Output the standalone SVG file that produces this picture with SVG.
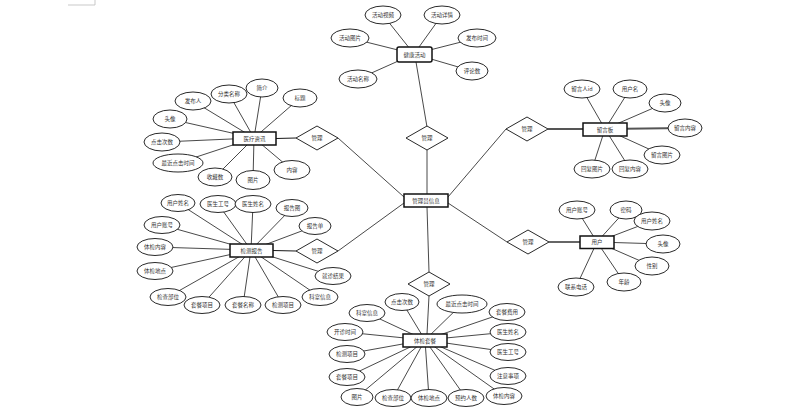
<svg xmlns="http://www.w3.org/2000/svg" width="806" height="415" viewBox="0 0 806 415">
<style>
.l{stroke:#1a1a1a;stroke-width:0.8;fill:none}
.t{stroke:#555;stroke-width:1.8;fill:none}
.a ellipse{fill:#fff;stroke:#111;stroke-width:0.9}
.e rect{fill:#fff;stroke:#111;stroke-width:1.5}
.d polygon{fill:#fff;stroke:#111;stroke-width:0.9}
text{font-family:"Noto Sans CJK SC","Noto Sans",sans-serif;font-size:5.5px;fill:#333;text-anchor:middle;dominant-baseline:central}
</style>
<rect width="806" height="415" fill="#fff"/>
<path d="M68 5H95V0" stroke="#bbb" stroke-width="0.8" fill="none"/>
<g id="connectors">
<!-- 健康活动 -->
<line class="l" x1="414" y1="54" x2="383" y2="15"/>
<line class="l" x1="414" y1="54" x2="442" y2="15"/>
<line class="l" x1="414" y1="54" x2="350" y2="38"/>
<line class="l" x1="414" y1="54" x2="477" y2="38"/>
<line class="l" x1="414" y1="54" x2="358" y2="79"/>
<line class="l" x1="414" y1="54" x2="472" y2="71"/>
<line class="l" x1="416" y1="62" x2="427" y2="127"/>
<!-- center -->
<line class="l" x1="427" y1="150" x2="427" y2="194"/>
<line class="l" x1="404" y1="197" x2="338" y2="138"/>
<line class="l" x1="448" y1="197" x2="506" y2="129"/>
<line class="l" x1="448" y1="203" x2="507" y2="242"/>
<line class="l" x1="404" y1="203" x2="338" y2="251"/>
<line class="l" x1="427" y1="207" x2="429" y2="272"/>
<line class="l" x1="429" y1="296" x2="427" y2="334"/>
<!-- 医疗资讯 -->
<line class="l" style="stroke-width:1.2" x1="276" y1="138.5" x2="296" y2="138"/>
<line class="l" x1="254" y1="138" x2="193" y2="101"/>
<line class="l" x1="254" y1="138" x2="229" y2="94"/>
<line class="l" x1="254" y1="138" x2="262" y2="88"/>
<line class="l" x1="254" y1="138" x2="300" y2="98"/>
<line class="l" x1="254" y1="138" x2="170" y2="119"/>
<line class="l" x1="254" y1="138" x2="162" y2="142"/>
<line class="l" x1="254" y1="138" x2="178" y2="163"/>
<line class="l" x1="254" y1="138" x2="215" y2="177"/>
<line class="l" x1="254" y1="138" x2="253" y2="180"/>
<line class="l" x1="254" y1="138" x2="292" y2="170"/>
<!-- 留言板 -->
<line class="t" x1="548" y1="129" x2="583" y2="129"/>
<line class="t" x1="605" y1="129" x2="685" y2="128"/>
<line class="l" x1="605" y1="129" x2="582" y2="89"/>
<line class="l" x1="605" y1="129" x2="630" y2="89"/>
<line class="l" x1="605" y1="129" x2="665" y2="103"/>
<line class="l" x1="605" y1="129" x2="662" y2="155"/>
<line class="l" x1="605" y1="129" x2="592" y2="169"/>
<line class="l" x1="605" y1="129" x2="630" y2="169"/>
<!-- 检测报告 -->
<line class="l" style="stroke-width:1.2" x1="273" y1="250.5" x2="296" y2="251"/>
<line class="l" x1="251" y1="250" x2="178" y2="203"/>
<line class="l" x1="251" y1="250" x2="218" y2="204"/>
<line class="l" x1="251" y1="250" x2="253" y2="204"/>
<line class="l" x1="251" y1="250" x2="292" y2="208"/>
<line class="l" x1="251" y1="250" x2="315" y2="226"/>
<line class="l" x1="251" y1="250" x2="162" y2="225"/>
<line class="l" x1="251" y1="250" x2="155" y2="247"/>
<line class="l" x1="251" y1="250" x2="155" y2="271"/>
<line class="l" x1="251" y1="250" x2="168" y2="297"/>
<line class="l" x1="251" y1="250" x2="202" y2="305"/>
<line class="l" x1="251" y1="250" x2="243" y2="305"/>
<line class="l" x1="251" y1="250" x2="283" y2="305"/>
<line class="l" x1="251" y1="250" x2="320" y2="297"/>
<line class="l" x1="251" y1="250" x2="333" y2="276"/>
<!-- 用户 -->
<line class="t" x1="549" y1="242" x2="580" y2="242"/>
<line class="l" x1="597" y1="242" x2="577" y2="210"/>
<line class="l" x1="597" y1="242" x2="626" y2="210"/>
<line class="l" x1="597" y1="242" x2="652" y2="221"/>
<line class="l" x1="597" y1="242" x2="663" y2="244"/>
<line class="l" x1="597" y1="242" x2="652" y2="266"/>
<line class="l" x1="597" y1="242" x2="624" y2="282"/>
<line class="l" x1="597" y1="242" x2="576" y2="287"/>
<!-- 体检套餐 -->
<line class="l" x1="425" y1="340" x2="402" y2="302"/>
<line class="l" x1="425" y1="340" x2="462" y2="304"/>
<line class="l" x1="425" y1="340" x2="367" y2="313"/>
<line class="l" x1="425" y1="340" x2="507" y2="312"/>
<line class="l" x1="425" y1="340" x2="345" y2="332"/>
<line class="l" x1="425" y1="340" x2="508" y2="332"/>
<line class="l" x1="425" y1="340" x2="347" y2="354"/>
<line class="l" x1="425" y1="340" x2="508" y2="352"/>
<line class="l" x1="425" y1="340" x2="347" y2="377"/>
<line class="l" x1="425" y1="340" x2="508" y2="376"/>
<line class="l" x1="425" y1="340" x2="357" y2="397"/>
<line class="l" x1="425" y1="340" x2="393" y2="398"/>
<line class="l" x1="425" y1="340" x2="429" y2="398"/>
<line class="l" x1="425" y1="340" x2="466" y2="398"/>
<line class="l" x1="425" y1="340" x2="504" y2="396"/>
</g>

<!-- relationship diamonds -->
<g id="rel-top" class="d"><polygon points="427,126 448,138 427,150 406,138"/><text x="427" y="138">管理</text></g>
<g id="rel-lu" class="d"><polygon points="317,126 338,138 317,150 296,138"/><text x="317" y="138">管理</text></g>
<g id="rel-ru" class="d"><polygon points="527,117 548,129 527,141 506,129"/><text x="527" y="129">管理</text></g>
<g id="rel-rd" class="d"><polygon points="528,230 549,242 528,254 507,242"/><text x="528" y="242">管理</text></g>
<g id="rel-ld" class="d"><polygon points="317,239 338,251 317,263 296,251"/><text x="317" y="251">管理</text></g>
<g id="rel-b" class="d"><polygon points="429,272 450,284 429,296 408,284"/><text x="429" y="284">管理</text></g>

<!-- entities -->
<g id="admin" class="e"><rect x="404" y="194" width="44" height="13"/><text x="426" y="200.5">管理员信息</text></g>
<g id="health" class="e"><rect x="397" y="47" width="35" height="15" rx="2"/><text x="414.5" y="54.5">健康活动</text></g>
<g id="medinfo" class="e"><rect x="233" y="132" width="43" height="13"/><text x="254.5" y="138.5">医疗资讯</text></g>
<g id="board" class="e"><rect x="583" y="123" width="44" height="13"/><text x="605" y="129.5">留言板</text></g>
<g id="report" class="e"><rect x="230" y="244" width="43" height="13"/><text x="251.5" y="250.5">检测报告</text></g>
<g id="user" class="e"><rect x="580" y="236" width="34" height="12.5"/><text x="597" y="242.2">用户</text></g>
<g id="package" class="e"><rect x="403" y="334" width="44" height="13"/><text x="425" y="340.5">体检套餐</text></g>

<!-- attributes: 健康活动 -->
<g id="ha-1" class="a"><ellipse cx="383" cy="15" rx="18" ry="9"/><text x="383" y="15">活动视频</text></g>
<g id="ha-2" class="a"><ellipse cx="442" cy="15" rx="18" ry="9"/><text x="442" y="15">活动详情</text></g>
<g id="ha-3" class="a"><ellipse cx="350" cy="38" rx="19" ry="9"/><text x="350" y="38">活动图片</text></g>
<g id="ha-4" class="a"><ellipse cx="477" cy="38" rx="19" ry="9"/><text x="477" y="38">发布时间</text></g>
<g id="ha-5" class="a"><ellipse cx="358" cy="79" rx="19" ry="9"/><text x="358" y="79">活动名称</text></g>
<g id="ha-6" class="a"><ellipse cx="472" cy="71" rx="16" ry="9"/><text x="472" y="71">评论数</text></g>

<!-- attributes: 医疗资讯 -->
<g id="mi-1" class="a"><ellipse cx="193" cy="101" rx="18" ry="9"/><text x="193" y="101">发布人</text></g>
<g id="mi-2" class="a"><ellipse cx="229" cy="94" rx="18" ry="9"/><text x="229" y="94">分类名称</text></g>
<g id="mi-3" class="a"><ellipse cx="262" cy="88" rx="16" ry="9"/><text x="262" y="88">简介</text></g>
<g id="mi-4" class="a"><ellipse cx="300" cy="98" rx="17" ry="9"/><text x="300" y="98">标题</text></g>
<g id="mi-5" class="a"><ellipse cx="170" cy="119" rx="17" ry="9"/><text x="170" y="119">头像</text></g>
<g id="mi-6" class="a"><ellipse cx="162" cy="142" rx="18" ry="9"/><text x="162" y="142">点击次数</text></g>
<g id="mi-7" class="a"><ellipse cx="178" cy="163" rx="25" ry="9"/><text x="178" y="163">最近点击时间</text></g>
<g id="mi-8" class="a"><ellipse cx="215" cy="177" rx="17" ry="9"/><text x="215" y="177">收藏数</text></g>
<g id="mi-9" class="a"><ellipse cx="253" cy="180" rx="17" ry="9.5"/><text x="253" y="180">图片</text></g>
<g id="mi-10" class="a"><ellipse cx="292" cy="170" rx="18" ry="9.5"/><text x="292" y="170">内容</text></g>

<!-- attributes: 留言板 -->
<g id="mb-1" class="a"><ellipse cx="582" cy="89" rx="18" ry="9"/><text x="582" y="89">留言人id</text></g>
<g id="mb-2" class="a"><ellipse cx="630" cy="89" rx="17" ry="9"/><text x="630" y="89">用户名</text></g>
<g id="mb-3" class="a"><ellipse cx="665" cy="103" rx="16" ry="9"/><text x="665" y="103">头像</text></g>
<g id="mb-4" class="a"><ellipse cx="685" cy="128" rx="17" ry="9"/><text x="685" y="128">留言内容</text></g>
<g id="mb-5" class="a"><ellipse cx="662" cy="155" rx="18" ry="9"/><text x="662" y="155">留言图片</text></g>
<g id="mb-6" class="a"><ellipse cx="592" cy="169" rx="18" ry="9"/><text x="592" y="169">回复图片</text></g>
<g id="mb-7" class="a"><ellipse cx="630" cy="169" rx="18" ry="9"/><text x="630" y="169">回复内容</text></g>

<!-- attributes: 检测报告 -->
<g id="rp-1" class="a"><ellipse cx="178" cy="203" rx="17" ry="8.5"/><text x="178" y="203">用户姓名</text></g>
<g id="rp-2" class="a"><ellipse cx="218" cy="204" rx="18" ry="8.5"/><text x="218" y="204">医生工号</text></g>
<g id="rp-3" class="a"><ellipse cx="253" cy="204" rx="18" ry="8.5"/><text x="253" y="204">医生姓名</text></g>
<g id="rp-4" class="a"><ellipse cx="292" cy="208" rx="16" ry="8.5"/><text x="292" y="208">报告图</text></g>
<g id="rp-5" class="a"><ellipse cx="315" cy="226" rx="16" ry="8.5"/><text x="315" y="226">报告单</text></g>
<g id="rp-6" class="a"><ellipse cx="162" cy="225" rx="18" ry="8.5"/><text x="162" y="225">用户账号</text></g>
<g id="rp-7" class="a"><ellipse cx="155" cy="247" rx="18" ry="8.5"/><text x="155" y="247">体检内容</text></g>
<g id="rp-8" class="a"><ellipse cx="155" cy="271" rx="18" ry="8.5"/><text x="155" y="271">体检地点</text></g>
<g id="rp-9" class="a"><ellipse cx="168" cy="297" rx="18" ry="8.5"/><text x="168" y="297">检查部位</text></g>
<g id="rp-10" class="a"><ellipse cx="202" cy="305" rx="18" ry="8.5"/><text x="202" y="305">套餐项目</text></g>
<g id="rp-11" class="a"><ellipse cx="243" cy="305" rx="18" ry="8.5"/><text x="243" y="305">套餐名称</text></g>
<g id="rp-12" class="a"><ellipse cx="283" cy="305" rx="18" ry="8.5"/><text x="283" y="305">检测项目</text></g>
<g id="rp-13" class="a"><ellipse cx="320" cy="297" rx="18" ry="8.5"/><text x="320" y="297">科室信息</text></g>
<g id="rp-14" class="a"><ellipse cx="333" cy="276" rx="18" ry="8.5"/><text x="333" y="276">就诊结果</text></g>

<!-- attributes: 用户 -->
<g id="us-1" class="a"><ellipse cx="577" cy="210" rx="18" ry="9"/><text x="577" y="210">用户账号</text></g>
<g id="us-2" class="a"><ellipse cx="626" cy="210" rx="16" ry="9"/><text x="626" y="210">密码</text></g>
<g id="us-3" class="a"><ellipse cx="652" cy="221" rx="18" ry="9"/><text x="652" y="221">用户姓名</text></g>
<g id="us-4" class="a"><ellipse cx="663" cy="244" rx="17" ry="9"/><text x="663" y="244">头像</text></g>
<g id="us-5" class="a"><ellipse cx="652" cy="266" rx="17" ry="9"/><text x="652" y="266">性别</text></g>
<g id="us-6" class="a"><ellipse cx="624" cy="282" rx="17" ry="9"/><text x="624" y="282">年龄</text></g>
<g id="us-7" class="a"><ellipse cx="576" cy="287" rx="18" ry="9"/><text x="576" y="287">联系电话</text></g>

<!-- attributes: 体检套餐 -->
<g id="pk-1" class="a"><ellipse cx="402" cy="302" rx="17" ry="8.5"/><text x="402" y="302">点击次数</text></g>
<g id="pk-2" class="a"><ellipse cx="462" cy="304" rx="25" ry="9"/><text x="462" y="304">最近点击时间</text></g>
<g id="pk-3" class="a"><ellipse cx="367" cy="313" rx="18" ry="8.5"/><text x="367" y="313">科室信息</text></g>
<g id="pk-4" class="a"><ellipse cx="507" cy="312" rx="18" ry="8.5"/><text x="507" y="312">套餐费用</text></g>
<g id="pk-5" class="a"><ellipse cx="345" cy="332" rx="18" ry="8.5"/><text x="345" y="332">开诊时间</text></g>
<g id="pk-6" class="a"><ellipse cx="508" cy="332" rx="18" ry="8.5"/><text x="508" y="332">医生姓名</text></g>
<g id="pk-7" class="a"><ellipse cx="347" cy="354" rx="18" ry="8.5"/><text x="347" y="354">检测项目</text></g>
<g id="pk-8" class="a"><ellipse cx="508" cy="352" rx="18" ry="8.5"/><text x="508" y="352">医生工号</text></g>
<g id="pk-9" class="a"><ellipse cx="347" cy="377" rx="18" ry="8.5"/><text x="347" y="377">套餐项目</text></g>
<g id="pk-10" class="a"><ellipse cx="508" cy="376" rx="18" ry="8.5"/><text x="508" y="376">注意事项</text></g>
<g id="pk-11" class="a"><ellipse cx="357" cy="397" rx="16" ry="8.5"/><text x="357" y="397">图片</text></g>
<g id="pk-12" class="a"><ellipse cx="393" cy="398" rx="18" ry="8.5"/><text x="393" y="398">检查部位</text></g>
<g id="pk-13" class="a"><ellipse cx="429" cy="398" rx="18" ry="8.5"/><text x="429" y="398">体检地点</text></g>
<g id="pk-14" class="a"><ellipse cx="466" cy="398" rx="18" ry="8.5"/><text x="466" y="398">预约人数</text></g>
<g id="pk-15" class="a"><ellipse cx="504" cy="396" rx="18" ry="8.5"/><text x="504" y="396">体检内容</text></g>
</svg>
